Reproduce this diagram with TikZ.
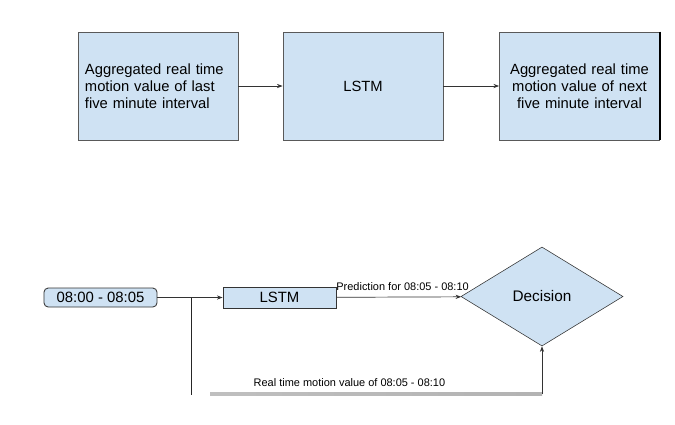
\documentclass[tikz,border=0pt]{standalone}
\usepackage{fontspec}
\setmainfont{Liberation Sans}
\usepackage{tikz}
\usetikzlibrary{shapes.geometric, arrows.meta}

\definecolor{boxblue}{HTML}{CFE2F3}

\begin{document}
\begin{tikzpicture}[x=0.025cm, y=-0.025cm,
        block/.style={draw=black!65, fill=boxblue, line width=0.6pt, minimum width=4cm, minimum height=2.7cm, inner sep=0.175cm, text width=3.65cm, font=\fontsize{10.5}{12.1}\selectfont},
        slotbox/.style={draw=black!80, fill=boxblue, line width=0.6pt, minimum width=2.825cm, inner sep=0pt, font=\fontsize{10.6}{12}\selectfont},
        flow/.style={draw=black!80, line width=0.5pt, -{Stealth[length=4pt, width=3pt]}},
        note/.style={font=\fontsize{7.8}{9}\selectfont, inner sep=1pt}]
                \useasboundingbox (0,0) rectangle (675,424);
                \draw
                    (158,   86) node[block, align=left](last){Aggregated real time\\motion value of last\\five minute interval}
                    (363,   86) node[block, align=center](lstm){LSTM}
                    (579.5, 86) node[block, align=center](next){Aggregated real time\\motion value of next\\five minute interval}

                    (100.5, 297.5) node[slotbox, rounded corners=3pt, minimum height=0.475cm](slot){08:00 - 08:05}
                    (279.5, 297.5) node[slotbox, minimum height=0.525cm](lstmb){LSTM}
                    (542,   296.5) node[draw=black!80, fill=boxblue, diamond, aspect=1.64, minimum width=4.05cm, minimum height=2.475cm, inner sep=0pt, font=\fontsize{10.9}{12}\selectfont](decision){Decision}
                ;
                \draw [line width=1.4pt] (next.north east) -- (next.south east);
                \coordinate (tap) at (191, 297.5);
                \coordinate (down) at (191, 395);
                \coordinate (fbstart) at (210, 394);
                \coordinate (fbend) at (decision.south |- fbstart);

                \draw [flow] (last)  -- (lstm);
                \draw [flow] (lstm)  -- (next);
                \draw [flow] (slot)  -- (lstmb);
                \draw [flow] (lstmb) -- node[note, above=3pt, pos=0.53]{Prediction for 08:05 - 08:10} (decision);
                % feedback of the measured value
                \draw [black!85, line width=0.6pt] (tap) -- (down);
                \shade [left color=black!25, middle color=black, right color=black!30] ([yshift=1pt]fbstart) rectangle ([yshift=-1pt]fbend);
                \path (fbstart) -- node[note, above=4pt, pos=0.42]{Real time motion value of 08:05 - 08:10} (fbend);
                \draw [flow] (fbend) -- (decision.south);
            \end{tikzpicture}
\end{document}
